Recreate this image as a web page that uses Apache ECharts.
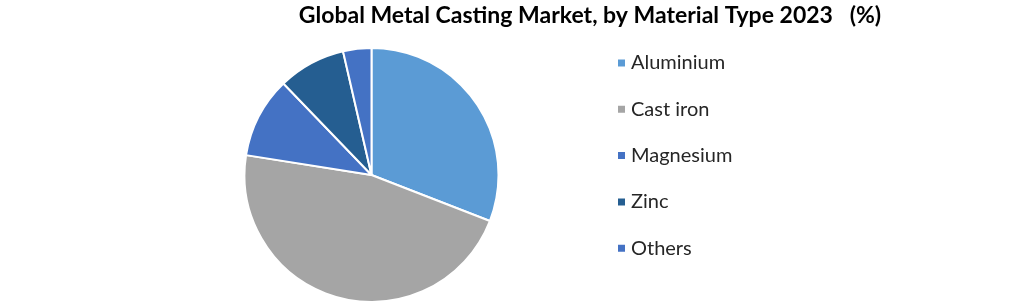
<!DOCTYPE html>
<html><head><meta charset="utf-8">
<script src="https://cdn.jsdelivr.net/npm/echarts@6/dist/echarts.min.js"></script>
<style>html,body{margin:0;padding:0;background:#fff}#c{width:1020px;height:303px}</style>
</head><body><div id="c"></div>
<script>
const categories = ["Aluminium", "Cast iron", "Magnesium", "Zinc", "Others"];
const values = [30.9, 46.6, 10.3, 8.6, 3.6];
const colors = ["#5B9BD5", "#A5A5A5", "#4472C4", "#255E91", "#4472C4"];
const titleText = "Global Metal Casting Market, by Material Type 2023   (%)";

const chart = echarts.init(document.getElementById('c'));
chart.setOption({
  animation: false,
  title: {
    text: titleText,
    left: 590, top: 4, textAlign: 'center', padding: 0,
    textStyle: {fontFamily: 'Lato', fontWeight: 'bold', fontSize: 23, color: '#000'}
  },
  legend: {
    orient: 'vertical', left: 616, top: 52, padding: 0,
    itemWidth: 9, itemHeight: 9, itemGap: 24.3,
    icon: 'rect',
    data: categories.map((c, i) => ({name: c, itemStyle: {color: colors[i]}})),
    textStyle: {fontFamily: 'Lato', fontSize: 20, color: '#262626', lineHeight: 22}
  },
  series: [{
    type: 'pie',
    center: [371.5, 175],
    radius: [0, 127],
    startAngle: 90,
    clockwise: true,
    label: {show: false}, labelLine: {show: false},
    emphasis: {disabled: true},
    itemStyle: {borderColor: '#fff', borderWidth: 2},
    data: categories.map((c, i) => ({name: c, value: values[i], itemStyle: {color: colors[i]}}))
  }]
});
</script></body></html>
